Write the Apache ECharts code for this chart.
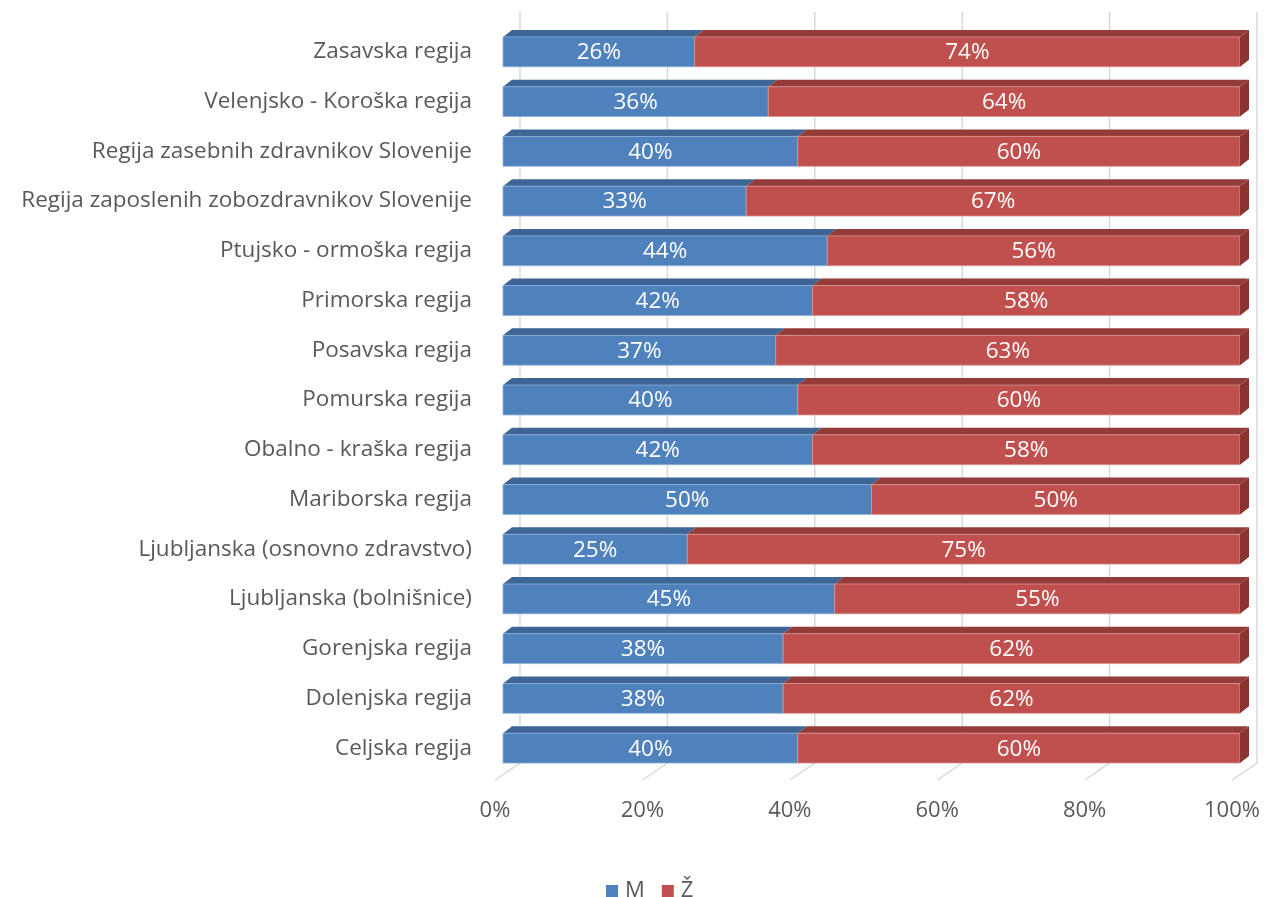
<!DOCTYPE html>
<html>
<head>
<meta charset="utf-8">
<script src="https://cdn.jsdelivr.net/npm/echarts@6/dist/echarts.min.js"></script>
<style>
html,body{margin:0;padding:0;background:#fff;}
#chart{width:1264px;height:897px;}
</style>
</head>
<body>
<div id="chart"></div>
<script>
// Categories listed bottom to top
const categories = [
  'Celjska regija',
  'Dolenjska regija',
  'Gorenjska regija',
  'Ljubljanska (bolnišnice)',
  'Ljubljanska (osnovno zdravstvo)',
  'Mariborska regija',
  'Obalno - kraška regija',
  'Pomurska regija',
  'Posavska regija',
  'Primorska regija',
  'Ptujsko - ormoška regija',
  'Regija zaposlenih zobozdravnikov Slovenije',
  'Regija zasebnih zdravnikov Slovenije',
  'Velenjsko - Koroška regija',
  'Zasavska regija'
];
const maleValues   = [40, 38, 38, 45, 25, 50, 42, 40, 37, 42, 44, 33, 40, 36, 26];
const femaleValues = [60, 62, 62, 55, 75, 50, 58, 60, 63, 58, 56, 67, 60, 64, 74];
const tickValues = [0, 20, 40, 60, 80, 100];
const seriesNames = ['M', 'Ž'];

const FONT = '"Open Sans", "Noto Sans", sans-serif';
const DX = 9, DY = -7;

const colors = {
  M: {front: '#4f81bd', top: '#3d6595', edge: '#8fb0d8'},
  Z: {front: '#c0504d', top: '#943c3a', side: '#8a3431', edge: '#d89492'}
};

function makeBarRender(pal, withSide) {
  return function (params, api) {
    const start = api.value(0), end = api.value(1), idx = api.value(2);
    const p0 = api.coord([start, idx]);
    const p1 = api.coord([end, idx]);
    const band = api.size([0, 1])[1];
    const h = band * 0.6;
    const x0 = p0[0], x1 = p1[0];
    const yt = p0[1] - h / 2, yb = p0[1] + h / 2;
    const children = [
      {type: 'polygon', shape: {points: [[x0, yt], [x1, yt], [x1 + DX, yt + DY], [x0 + DX, yt + DY]]},
        style: {fill: pal.top}},
      {type: 'rect', shape: {x: x0, y: yt, width: x1 - x0, height: h},
        style: {fill: pal.front, stroke: pal.edge, lineWidth: 0.8}},
      {type: 'text', x: (x0 + x1) / 2, y: p0[1] + 1,
        style: {text: Math.round(end - start) + '%', fill: '#ffffff', font: '22.5px ' + FONT,
          align: 'center', verticalAlign: 'middle'}}
    ];
    if (withSide) {
      children.push({type: 'polygon',
        shape: {points: [[x1, yt], [x1 + DX, yt + DY], [x1 + DX, yb + DY], [x1, yb]]},
        style: {fill: pal.side}});
    }
    return {type: 'group', children: children};
  };
}

const maleData = maleValues.map((v, i) => [0, v, i]);
const femaleData = femaleValues.map((v, i) => [maleValues[i], maleValues[i] + v, i]);
const gridData = tickValues.map(v => [v, 0]);

const chart = echarts.init(document.getElementById('chart'));
chart.setOption({
  animation: false,
  backgroundColor: '#ffffff',
  textStyle: {fontFamily: FONT},
  grid: {left: 503, right: 24, top: 27, bottom: 124, containLabel: false},
  legend: {
    data: seriesNames,
    top: 875,
    left: 601,
    icon: 'rect',
    itemWidth: 12,
    itemHeight: 12,
    itemGap: 17,
    textStyle: {color: '#595959', fontSize: 22, fontFamily: FONT, padding: [0, 0, 0, 2]}
  },
  xAxis: {
    type: 'value',
    min: 0, max: 100, interval: 20,
    axisLine: {show: false},
    axisTick: {show: false},
    splitLine: {show: false},
    axisLabel: {formatter: '{value}%', color: '#595959', fontSize: 22, margin: 27,
      padding: [0, 16, 0, 0], fontFamily: FONT}
  },
  yAxis: {
    type: 'category',
    data: categories,
    axisLine: {show: false},
    axisTick: {show: false},
    axisLabel: {color: '#595959', fontSize: 22.5, margin: 31, fontFamily: FONT,
      padding: [4, 0, 0, 0]}
  },
  series: [
    {
      type: 'custom',
      name: 'grid',
      silent: true,
      clip: false,
      z: 1,
      encode: {x: 0, y: 1},
      data: gridData,
      renderItem: function (params, api) {
        const cs = params.coordSys;
        const xf = api.coord([api.value(0), 0])[0];
        const bottom = cs.y + cs.height;
        return {type: 'polyline',
          shape: {points: [[xf + 17, cs.y - 15], [xf + 17, bottom - 10], [xf - 8, bottom + 7]]},
          style: {stroke: '#d9d9d9', lineWidth: 1.5, fill: null}};
      }
    },
    {
      type: 'custom',
      name: 'M',
      clip: false,
      z: 2,
      itemStyle: {color: colors.M.front},
      encode: {x: [0, 1], y: 2},
      data: maleData,
      renderItem: makeBarRender(colors.M, false)
    },
    {
      type: 'custom',
      name: 'Ž',
      clip: false,
      z: 2,
      itemStyle: {color: colors.Z.front},
      encode: {x: [0, 1], y: 2},
      data: femaleData,
      renderItem: makeBarRender(colors.Z, true)
    }
  ]
});
</script>
</body>
</html>
